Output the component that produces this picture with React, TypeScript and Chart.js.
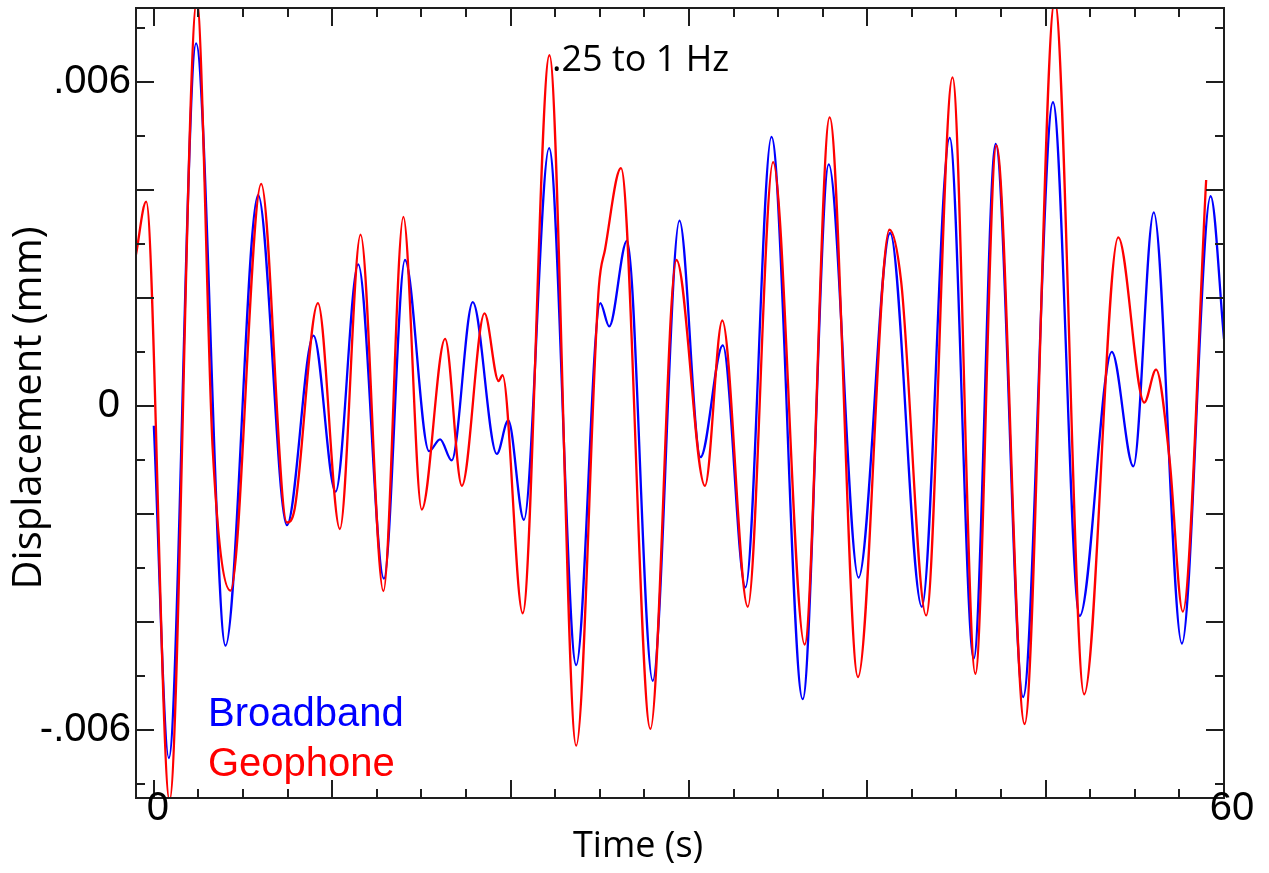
import React, { useEffect, useRef } from "react";
import { Chart, registerables } from "chart.js";

Chart.register(...registerables);

// ---- Data (time in s, displacement in mm) ----
const BROADBAND_T = [0, 0.84, 2.37, 4.02, 5.85, 7.46, 8.95, 10.19, 11.46, 12.9, 14.08, 15.43, 16.05, 16.7, 17.88, 19.23, 19.87, 20.75, 22.16, 23.68, 25.03, 25.53, 26.53, 27.97, 29.47, 30.65, 31.9, 33.17, 34.63, 36.38, 37.84, 39.51, 41.28, 43.06, 44.62, 45.97, 47.2, 48.74, 50.41, 51.91, 53.71, 54.92, 56.06, 57.64, 59.25, 60];
const BROADBAND_V = [-0.00037, -0.00652, 0.00671, -0.00444, 0.0039, -0.00221, 0.0013, -0.00159, 0.00262, -0.0032, 0.0027, -0.00084, -0.00062, -0.00101, 0.00192, -0.00089, -0.00027, -0.00211, 0.00477, -0.0048, 0.0019, 0.00147, 0.00306, -0.00509, 0.00343, -0.00095, 0.00112, -0.00336, 0.00498, -0.00543, 0.00447, -0.00318, 0.0032, -0.00372, 0.00496, -0.00468, 0.00485, -0.00539, 0.00562, -0.00389, 0.001, -0.00112, 0.00358, -0.0044, 0.00388, 0.00124];

const GEOPHONE_T = [-1.0, -0.43, 0.88, 2.41, 3.3, 4.3, 6.02, 7.46, 7.9, 9.2, 10.43, 11.59, 12.87, 13.99, 15.02, 16.33, 17.27, 18.54, 19.33, 19.55, 20.68, 22.18, 23.68, 24.95, 25.3, 26.19, 27.84, 29.3, 30.9, 31.87, 33.3, 34.72, 36.49, 37.89, 39.48, 41.24, 41.9, 43.3, 44.78, 46.06, 47.24, 48.82, 50.51, 52.16, 54.07, 55.53, 56.19, 56.95, 57.69, 59.0];
const GEOPHONE_V = [0.0028, 0.00378, -0.0073, 0.0075, -0.0008, -0.00342, 0.00411, -0.00216, -0.0019, 0.0019, -0.00228, 0.00317, -0.00343, 0.0035, -0.00192, 0.00124, -0.00148, 0.00171, 0.00046, 0.00057, -0.00384, 0.00649, -0.00629, 0.0022, 0.0029, 0.0044, -0.00598, 0.0027, -0.00148, 0.00158, -0.00372, 0.00451, -0.00442, 0.00534, -0.00502, 0.00326, 0.0023, -0.00388, 0.00608, -0.00496, 0.00482, -0.00589, 0.0075, -0.00534, 0.00312, 0.00006, 0.00067, -0.001, -0.00381, 0.00418];

const SERIES_NAMES = ["Broadband", "Geophone"];
const SERIES_COLORS = ["#0000ff", "#ff0000"];

// ---- Axes ----
const X_MIN = -1;
const X_MAX = 60;
const Y_MIN = -0.00726;
const Y_MAX = 0.007365;
const X_LABEL_VALUES = [0, 60];
const X_LABEL_TEXT = ["0", "60"];
const Y_LABEL_VALUES = [-0.006, 0, 0.006];
const Y_LABEL_TEXT = ["-.006", "0 ", ".006"];
const X_MAJOR = [0, 10, 20, 30, 40, 50, 60];
const X_MINOR = [2.5, 5, 7.5, 12.5, 15, 17.5, 22.5, 25, 27.5, 32.5, 35, 37.5, 42.5, 45, 47.5, 52.5, 55, 57.5];
const Y_MAJOR = [-0.006, -0.004, -0.002, 0, 0.002, 0.004, 0.006];
const Y_MINOR = [-0.007, -0.005, -0.003, -0.001, 0.001, 0.003, 0.005, 0.007];
const X_TITLE = "Time (s)";
const Y_TITLE = "Displacement (mm)";
const ANNOTATION = ".25 to 1 Hz";

const SANS = '"Liberation Sans", Arial, Helvetica, sans-serif';
const HUMANIST = '"Open Sans", "Noto Sans", sans-serif';
const FRAME = "#1e1e1e";

const lookup = (vals: number[], texts: string[], v: number) => {
  const i = vals.findIndex((a) => Math.abs(a - v) < 1e-9);
  return i >= 0 ? texts[i] : "";
};

const framePlugin = {
  id: "frameTicks",
  afterDatasetsDraw(chart: any) {
    const { ctx, chartArea, scales } = chart;
    const { left, right, top, bottom } = chartArea;
    const x = scales.x;
    const y = scales.y;
    ctx.save();
    ctx.strokeStyle = FRAME;
    ctx.lineWidth = 2;
    ctx.beginPath();
    const xt = (vals: number[], len: number) => {
      vals.forEach((v) => {
        const px = Math.round(x.getPixelForValue(v));
        ctx.moveTo(px, bottom);
        ctx.lineTo(px, bottom - len);
        ctx.moveTo(px, top);
        ctx.lineTo(px, top + len);
      });
    };
    const yt = (vals: number[], len: number) => {
      vals.forEach((v) => {
        const py = Math.round(y.getPixelForValue(v));
        ctx.moveTo(left, py);
        ctx.lineTo(left + len, py);
        ctx.moveTo(right, py);
        ctx.lineTo(right - len, py);
      });
    };
    xt(X_MAJOR, 18);
    xt(X_MINOR, 9);
    yt(Y_MAJOR, 18);
    yt(Y_MINOR, 9);
    ctx.stroke();
    ctx.strokeRect(left, top, right - left, bottom - top);
    ctx.restore();
  },
};

const textPlugin = {
  id: "textMarks",
  afterDraw(chart: any) {
    const { ctx, scales } = chart;
    ctx.save();
    ctx.textBaseline = "alphabetic";
    ctx.fillStyle = "#000";
    // x tick labels (overlapping the frame like the original)
    ctx.font = `40px ${SANS}`;
    ctx.textAlign = "center";
    X_LABEL_VALUES.forEach((v, i) => {
      const px = scales.x.getPixelForValue(v);
      ctx.fillText(X_LABEL_TEXT[i], px + (i === 0 ? 4 : 8), 820);
    });
    ctx.textAlign = "left";
    // annotation
    ctx.font = `36px ${HUMANIST}`;
    ctx.fillText(ANNOTATION, 552, 71);
    // x title
    ctx.fillText(X_TITLE, 573, 857);
    // y title (rotated)
    ctx.save();
    ctx.font = `40px ${HUMANIST}`;
    ctx.translate(41, 408);
    ctx.rotate(-Math.PI / 2);
    ctx.textAlign = "center";
    ctx.fillText(Y_TITLE, 0, 0);
    ctx.restore();
    // legend
    ctx.font = `40px ${SANS}`;
    const baselines = [726, 776];
    SERIES_NAMES.forEach((name, i) => {
      ctx.fillStyle = SERIES_COLORS[i];
      ctx.fillText(name, 208, baselines[i]);
    });
    ctx.restore();
  },
};

export default function App() {
  const ref = useRef<HTMLCanvasElement | null>(null);
  useEffect(() => {
    if (!ref.current) return;
    const bb = BROADBAND_T.map((t, i) => ({ x: t, y: BROADBAND_V[i] }));
    const geo = GEOPHONE_T.map((t, i) => ({ x: t, y: GEOPHONE_V[i] }));
    const chart = new Chart(ref.current, {
      type: "line",
      data: {
        datasets: [
          {
            label: SERIES_NAMES[0],
            data: bb,
            borderColor: SERIES_COLORS[0],
            borderWidth: 2.3,
            pointRadius: 0,
            cubicInterpolationMode: "monotone",
            fill: false,
            order: 1,
            clip: 0,
          },
          {
            label: SERIES_NAMES[1],
            data: geo,
            borderColor: SERIES_COLORS[1],
            borderWidth: 2.3,
            pointRadius: 0,
            cubicInterpolationMode: "monotone",
            fill: false,
            order: 0,
            clip: 0,
          },
        ],
      },
      options: {
        responsive: false,
        animation: false,
        events: [],
        layout: { padding: { left: 0, right: 45, top: 8, bottom: 0 } },
        plugins: { legend: { display: false }, tooltip: { enabled: false } },
        scales: {
          x: {
            type: "linear",
            min: X_MIN,
            max: X_MAX,
            afterBuildTicks: (s: any) => {
              s.ticks = X_LABEL_VALUES.map((v) => ({ value: v }));
            },
            ticks: { display: false },
            grid: { display: false, drawTicks: false },
            border: { display: false },
            title: { display: false },
            afterFit: (s: any) => {
              s.height = 75;
              s.paddingLeft = 0;
              s.paddingRight = 0;
            },
          },
          y: {
            type: "linear",
            min: Y_MIN,
            max: Y_MAX,
            afterBuildTicks: (s: any) => {
              s.ticks = Y_LABEL_VALUES.map((v) => ({ value: v }));
            },
            ticks: {
              callback: (v: any) => lookup(Y_LABEL_VALUES, Y_LABEL_TEXT, Number(v)),
              font: { family: SANS, size: 40 },
              color: "#000",
              padding: 5,
              autoSkip: true,
            },
            grid: { display: false, drawTicks: false },
            border: { display: false },
            title: { display: false },
            afterFit: (s: any) => {
              s.width = 136;
              s.paddingTop = 0;
              s.paddingBottom = 0;
            },
          },
        },
      },
      plugins: [framePlugin, textPlugin],
    } as any);
    const fonts = (document as any).fonts;
    if (fonts && fonts.load) {
      Promise.all([fonts.load(`36px "Open Sans"`), fonts.load(`40px "Liberation Sans"`)])
        .then(() => chart.update())
        .catch(() => {});
    }
    return () => chart.destroy();
  }, []);
  return (
    <div style={{ position: "absolute", left: 0, top: 0, width: 1269, height: 873, background: "#fff" }}>
      <canvas ref={ref} width={1269} height={873} style={{ display: "block" }} />
    </div>
  );
}
